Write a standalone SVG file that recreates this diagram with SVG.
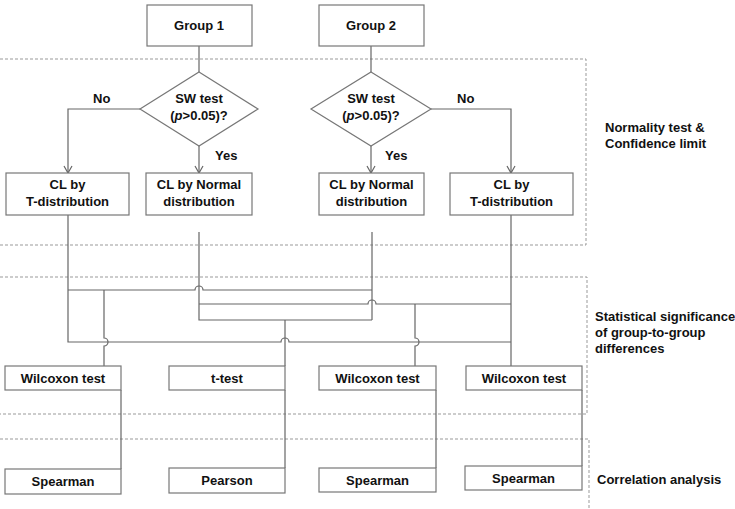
<svg xmlns="http://www.w3.org/2000/svg" width="735" height="509" viewBox="0 0 735 509">
<defs>
<style>
.box{fill:#fff;stroke:#777;stroke-width:1.2}
.t{font-family:"Liberation Sans",Arial,sans-serif;font-size:13px;font-weight:bold;fill:#111;text-anchor:middle}
.lab{font-family:"Liberation Sans",Arial,sans-serif;font-size:13px;font-weight:bold;fill:#111}
.c{fill:none;stroke:#666;stroke-width:1.2}
.dash{fill:none;stroke:#999;stroke-width:1;stroke-dasharray:3,2}
</style>
<marker id="arr" markerUnits="userSpaceOnUse" markerWidth="12" markerHeight="12" refX="9" refY="6" orient="auto">
<path d="M2,2 L9,6 L2,10" fill="none" stroke="#666" stroke-width="1.2"/>
</marker>
</defs>
<rect width="735" height="509" fill="#fff"/>
<g id="regions">
<path class="dash" d="M0,59 H586 V245 H0"/>
<path class="dash" d="M0,277 H587 V414 H0"/>
<path class="dash" d="M0,439 H589 V509"/>
</g>
<g id="connectors">
<path class="c" d="M199,46 V72"/>
<path class="c" d="M371,46 V72"/>
<path class="c" d="M140,109 H68 V173" marker-end="url(#arr)"/>
<path class="c" d="M199,146 V173" marker-end="url(#arr)"/>
<path class="c" d="M371,146 V173" marker-end="url(#arr)"/>
<path class="c" d="M431,109 H511 V173" marker-end="url(#arr)"/>
<path class="c" d="M68,215 V342 H281 A4,4 0 0 1 289,342 H511"/>
<path class="c" d="M68,290 H195 A4,4 0 0 1 203,290 H372"/>
<path class="c" d="M104,290 V338 A4,4 0 0 1 104,346 V366"/>
<path class="c" d="M199,232 V320 H372"/>
<path class="c" d="M372,232 V320"/>
<path class="c" d="M199,304 H368 A4,4 0 0 1 376,304 H511"/>
<path class="c" d="M285,320 V366"/>
<path class="c" d="M415,304 V338 A4,4 0 0 1 415,346 V366"/>
<path class="c" d="M511,215 V366"/>
<path class="c" d="M121,390 V469"/>
<path class="c" d="M285,390 V468"/>
<path class="c" d="M436,390 V468"/>
<path class="c" d="M582,390 V466"/>
</g>
<g id="group1"><rect class="box" x="147" y="5" width="105" height="41"/><text class="t" x="199" y="30">Group 1</text></g>
<g id="group2"><rect class="box" x="319" y="5" width="105" height="41"/><text class="t" x="371" y="30">Group 2</text></g>
<g id="sw1"><polygon class="box" points="199,72 258,109 199,146 140,109"/><text class="t" x="199" y="103">SW test</text><text class="t" x="199" y="120">(<tspan font-style="italic">p</tspan>&gt;0.05)?</text></g>
<g id="sw2"><polygon class="box" points="371,72 431,109 371,146 311,109"/><text class="t" x="371" y="103">SW test</text><text class="t" x="371" y="120">(<tspan font-style="italic">p</tspan>&gt;0.05)?</text></g>
<g id="labels-yn">
<text class="lab" x="93" y="103">No</text>
<text class="lab" x="215" y="160">Yes</text>
<text class="lab" x="457" y="103">No</text>
<text class="lab" x="385" y="160">Yes</text>
</g>
<g id="cl1"><rect class="box" x="6" y="173" width="123" height="42"/><text class="t" x="67.5" y="189">CL by</text><text class="t" x="67.5" y="206">T-distribution</text></g>
<g id="cl2"><rect class="box" x="146" y="173" width="106" height="42"/><text class="t" x="199" y="189">CL by Normal</text><text class="t" x="199" y="206">distribution</text></g>
<g id="cl3"><rect class="box" x="319" y="173" width="105" height="42"/><text class="t" x="371.5" y="189">CL by Normal</text><text class="t" x="371.5" y="206">distribution</text></g>
<g id="cl4"><rect class="box" x="450" y="173" width="123" height="42"/><text class="t" x="511.5" y="189">CL by</text><text class="t" x="511.5" y="206">T-distribution</text></g>
<g id="wil1"><rect class="box" x="5" y="366" width="116" height="24"/><text class="t" x="63" y="383">Wilcoxon test</text></g>
<g id="ttest"><rect class="box" x="169" y="366" width="116" height="24"/><text class="t" x="227" y="383">t-test</text></g>
<g id="wil3"><rect class="box" x="319" y="366" width="117" height="24"/><text class="t" x="377.5" y="383">Wilcoxon test</text></g>
<g id="wil4"><rect class="box" x="466" y="366" width="116" height="24"/><text class="t" x="524" y="383">Wilcoxon test</text></g>
<g id="sp1"><rect class="box" x="5" y="469" width="116" height="25"/><text class="t" x="63" y="486">Spearman</text></g>
<g id="pearson"><rect class="box" x="169" y="468" width="116" height="25"/><text class="t" x="227" y="485">Pearson</text></g>
<g id="sp3"><rect class="box" x="319" y="468" width="117" height="24"/><text class="t" x="377.5" y="485">Spearman</text></g>
<g id="sp4"><rect class="box" x="465" y="466" width="117" height="24"/><text class="t" x="523.5" y="483">Spearman</text></g>
<g id="section-labels">
<text class="lab" x="605" y="132">Normality test &amp;</text>
<text class="lab" x="605" y="148">Confidence limit</text>
<text class="lab" x="595" y="321">Statistical significance</text>
<text class="lab" x="595" y="337">of group-to-group</text>
<text class="lab" x="595" y="353">differences</text>
<text class="lab" x="597" y="484">Correlation analysis</text>
</g>
</svg>
